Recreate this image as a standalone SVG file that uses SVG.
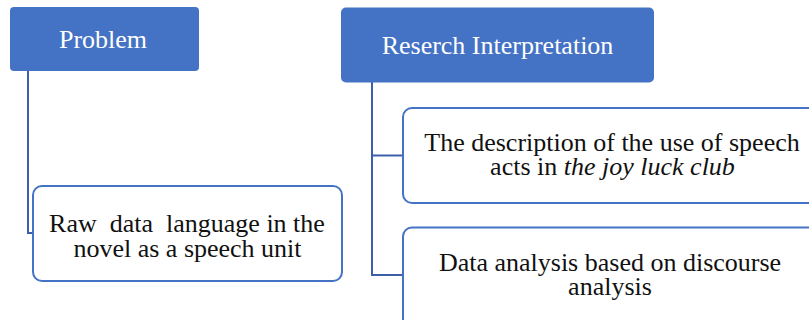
<svg xmlns="http://www.w3.org/2000/svg" width="809" height="320" viewBox="0 0 809 320">
  <style>
    .head { fill: #4472C4; }
    .box { fill: #FFFFFF; stroke: #4472C4; stroke-width: 2; }
    .conn { fill: none; stroke: #3B5FA8; stroke-width: 2; }
    text { font-family: 'Liberation Serif', 'Times New Roman', Times, serif; font-size: 26px; text-anchor: middle; }
    .tw { fill: #FFFFFF; }
    .tb { fill: #111111; }
  </style>
  <rect width="809" height="320" fill="#FFFFFF"/>
  <g id="connectors">
    <polyline class="conn" points="28,70 28,233 33,233"/>
    <polyline class="conn" points="372,82 372,275 403,275"/>
    <line class="conn" x1="372" y1="155.5" x2="403" y2="155.5"/>
  </g>
  <g id="problem">
    <rect class="head" x="10" y="7" width="189" height="64" rx="4"/>
    <text class="tw" x="103" y="48">Problem</text>
  </g>
  <g id="research">
    <rect class="head" x="341" y="7.5" width="313" height="75" rx="5"/>
    <text class="tw" x="497.5" y="53.5">Reserch Interpretation</text>
  </g>
  <g id="raw-data">
    <rect class="box" x="33" y="186" width="309" height="95" rx="9"/>
    <text class="tb" x="187" y="231.5" xml:space="preserve">Raw  data  language in the</text>
    <text class="tb" x="187.5" y="256.5">novel as a speech unit</text>
  </g>
  <g id="description">
    <rect class="box" x="403" y="108" width="420" height="95" rx="9"/>
    <text class="tb" x="612" y="151">The description of the use of speech</text>
    <text class="tb" x="612.5" y="175">acts in <tspan font-style="italic">the joy luck club</tspan></text>
  </g>
  <g id="analysis">
    <rect class="box" x="403" y="227.5" width="420" height="100" rx="9"/>
    <text class="tb" x="610" y="270.5">Data analysis based on discourse</text>
    <text class="tb" x="610" y="295">analysis</text>
  </g>
</svg>
